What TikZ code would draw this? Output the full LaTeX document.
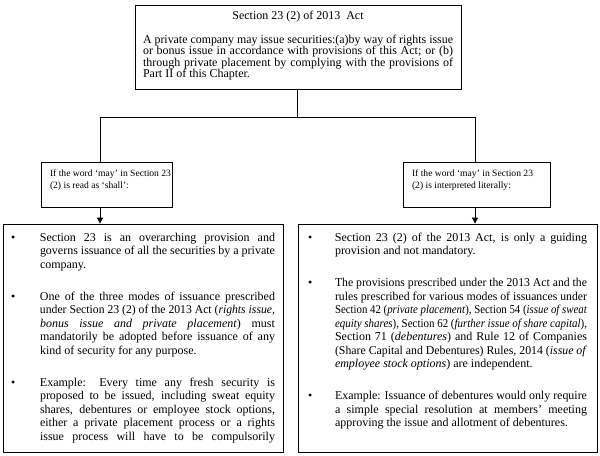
\documentclass[tikz,border=0pt]{standalone}
\usepackage{graphicx}
\usepackage{fontspec}
\setmainfont{Liberation Serif}
\usetikzlibrary{arrows.meta}
\newlength\bxI
\newlength\bxO
\newlength\bxW
\newcommand\bul{\textbullet}
\newcommand\tstrut[1]{\rule{0pt}{#1}}
% justified line of width #1, squeezed if too long
\newcommand\sq[2]{\sbox0{#2}\ifdim\wd0>#1\relax\resizebox{#1}{\height}{#2}\else\makebox[#1][s]{#2}\fi}
% natural line, squeezed only if too long
\newcommand\sqn[2]{\sbox0{#2}\ifdim\wd0>#1\relax\resizebox{#1}{\height}{#2}\else#2\fi}
\newcommand\fLn[1]{\hbox to \hsize{\makebox[\bxI][l]{\hspace{\bxO}\bul}\sq{\bxW}{#1}\hfil}}
\newcommand\mLn[1]{\hbox to \hsize{\hspace{\bxI}\sq{\bxW}{#1}\hfil}}
\newcommand\eLn[1]{\hbox to \hsize{\hspace{\bxI}\sqn{\bxW}{#1}\hfil}}
\newcommand\jLn[1]{\hbox to \hsize{\sq{\hsize}{#1}}}
\newcommand\pLn[1]{\hbox to \hsize{\sqn{\hsize}{#1}\hfil}}
\newcommand\sLn[1]{\hbox to \hsize{\hspace{6.75pt}#1\hfil}}
\newcommand\bigfont{\fontsize{9}{10.125}\selectfont}
\newcommand\topfont{\fontsize{9}{8.625}\selectfont}
\newcommand\smallfont{\fontsize{7.2}{9}\selectfont}
\begin{document}
\begin{tikzpicture}[x=0.75pt,y=-0.75pt,
  box/.style={draw, line width=0.65pt, inner sep=0pt},
  conn/.style={line width=0.65pt},
  arr/.style={conn,-{Triangle[length=4.5pt,width=4.5pt]}}]
\useasboundingbox (0,0) rectangle (600,455);
\fill[white] (0,0) rectangle (600,455);

% top box
\node[box, inner xsep=6pt, minimum width=244.5pt, minimum height=63pt] (top) at (298,47) {\parbox[c][63pt][t]{232.5pt}{\topfont
\hbox to \hsize{\hfil\tstrut{10.5pt}Section 23 (2) of 2013\ \ Act\hfil}
\vspace{9.375pt}
\jLn{A private company may issue securities:(a)by way of rights issue}
\jLn{or bonus issue in accordance with provisions of this Act; or (b)}
\jLn{through private placement by complying with the provisions of}
\pLn{Part II of this Chapter.}}};

% small boxes
\node[box, minimum width=98.25pt, minimum height=33.75pt] (sl) at (106.5,184.5) {\parbox[c][33.75pt][t]{98.25pt}{\smallfont
\sLn{\tstrut{10.5pt}If the word ‘may’ in Section 23}
\sLn{(2) is read as ‘shall’:}}};
\node[box, minimum width=110.25pt, minimum height=33.75pt] (sr) at (476.5,184.5) {\parbox[c][33.75pt][t]{110.25pt}{\smallfont
\sLn{\tstrut{10.5pt}If the word ‘may’ in Section 23}
\sLn{(2) is interpreted literally:}}};

% big left box
\node[box, minimum width=210pt, minimum height=171pt] (bl) at (143,338) {\parbox[c][171pt][t]{210pt}{\bigfont
\setlength\bxI{27.75pt}\setlength\bxO{6pt}\setlength\bxW{176.25pt}
\fLn{\tstrut{12.75pt}Section 23 is an overarching provision and}
\mLn{governs issuance of all the securities by a private}
\eLn{company.}
\vspace{13.875pt}
\fLn{One of the three modes of issuance prescribed}
\mLn{under Section 23 (2) of the 2013 Act (\textit{rights issue,}}
\mLn{\textit{bonus issue and private placement}) must}
\mLn{mandatorily be adopted before issuance of any}
\eLn{kind of security for any purpose.}
\vspace{13.875pt}
\fLn{Example: Every time any fresh security is}
\mLn{proposed to be issued, including sweat equity}
\mLn{shares, debentures or employee stock options,}
\mLn{either a private placement process or a rights}
\mLn{issue process will have to be compulsorily}}};

% big right box
\node[box, minimum width=224.25pt, minimum height=171pt] (br) at (447.5,338) {\parbox[c][171pt][t]{224.25pt}{\bigfont
\setlength\bxI{27.75pt}\setlength\bxO{7.5pt}\setlength\bxW{189pt}
\fLn{\tstrut{12.75pt}Section 23 (2) of the 2013 Act, is only a guiding}
\eLn{provision and not mandatory.}
\vspace{13.875pt}
\fLn{The provisions prescribed under the 2013 Act and the}
\mLn{rules prescribed for various modes of issuances under}
\mLn{Section 42 (\textit{private placement}), Section 54 (\textit{issue of sweat}}
\mLn{\textit{equity shares}), Section 62 (\textit{further issue of share capital}),}
\mLn{Section 71 (\textit{debentures}) and Rule 12 of Companies}
\mLn{(Share Capital and Debentures) Rules, 2014 (\textit{issue of}}
\eLn{\textit{employee stock options}) are independent.}
\vspace{13.875pt}
\fLn{Example: Issuance of debentures would only require}
\mLn{a simple special resolution at members’ meeting}
\eLn{approving the issue and allotment of debentures.}}};

% connectors
\coordinate (jc) at (297,117);
\coordinate (jl) at (100,117);
\coordinate (jr) at (475,117);
\draw[conn] (jc |- top.south) -- (jc);
\draw[conn] (jl) -- (jr);
\draw[conn] (jl) -- (jl |- sl.north);
\draw[conn] (jr) -- (jr |- sr.north);
\draw[arr] (jl |- sl.south) -- (jl |- bl.north);
\draw[arr] (jr |- sr.south) -- (jr |- br.north);
\end{tikzpicture}
\end{document}
